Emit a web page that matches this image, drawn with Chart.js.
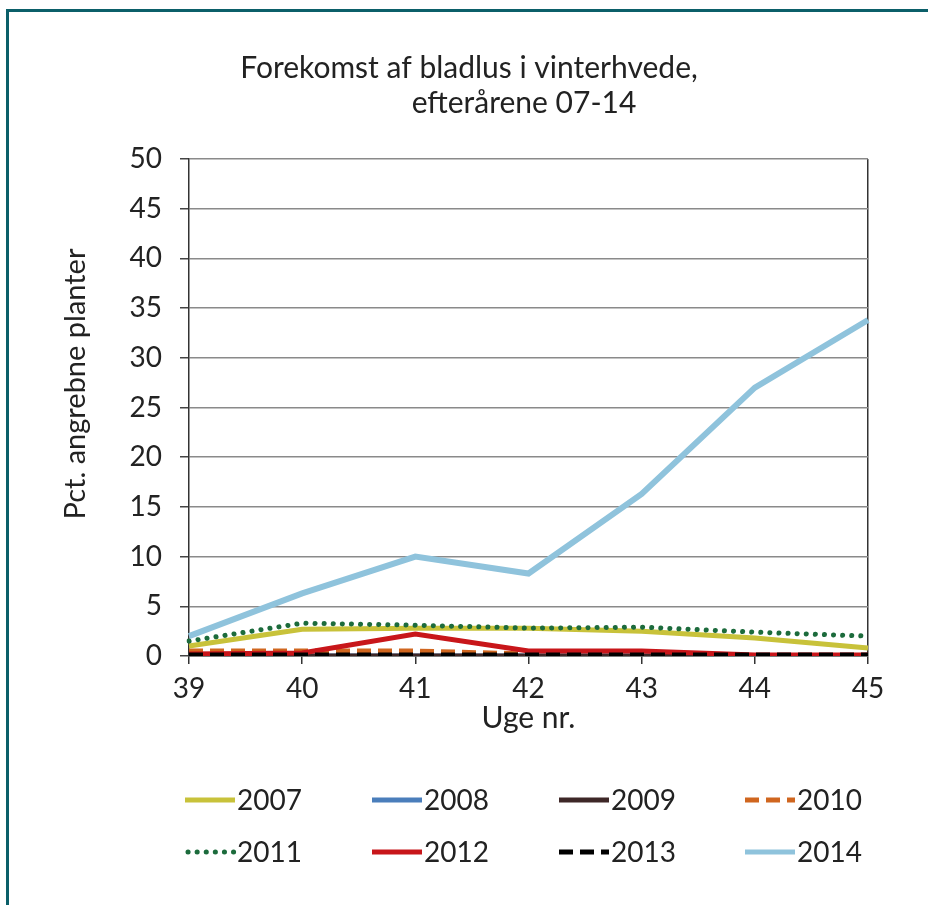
<!DOCTYPE html>
<html>
<head>
<meta charset="utf-8">
<script src="https://cdn.jsdelivr.net/npm/chart.js@4/dist/chart.umd.min.js"></script>
<style>
  body { margin: 0; background: #fff; }
  #wrap { position: relative; width: 928px; height: 905px; overflow: hidden; }
  #chart { position: absolute; left: 0; top: 0; }
  #frame { position: absolute; left: 6px; top: 9px; width: 940px; height: 920px;
           border-top: 3px solid #0b5f69; border-left: 3px solid #0b5f69; pointer-events: none; }
</style>
</head>
<body>
<div id="wrap">
  <canvas id="chart" width="928" height="905"></canvas>
  <div id="frame"></div>
</div>
<script>
// Data
const weeks = ['39', '40', '41', '42', '43', '44', '45'];
const years = ['2007', '2008', '2009', '2010', '2011', '2012', '2013', '2014'];
const v2007 = [1.0, 2.7, 2.8, 2.8, 2.5, 1.8, 0.8];
const v2008 = [0, 0, 0, 0, 0, 0, 0];
const v2009 = [0, 0, 0, 0, 0, 0, 0];
const v2010 = [0.5, 0.5, 0.5, 0.2, 0.1, 0, 0];
const v2011 = [1.5, 3.3, 3.1, 2.8, 2.9, 2.4, 2.0];
const v2012 = [0.2, 0.3, 2.2, 0.5, 0.5, 0.1, 0.1];
const v2013 = [0.1, 0.1, 0.1, 0.1, 0.1, 0.1, 0.1];
const v2014 = [2.0, 6.3, 10.0, 8.3, 16.3, 27.0, 33.8];
const yTicks = [0, 5, 10, 15, 20, 25, 30, 35, 40, 45, 50];
const titleLines = ['Forekomst af bladlus i vinterhvede,', 'efterårene 07-14'];
const yTitle = 'Pct. angrebne planter';

const FONT = "Lato, 'Open Sans', sans-serif";
const TEXT = '#222';

// line styles per year
const styles = [
    { data: v2007, color: '#c8c23a', width: 5, dash: [], cap: 'butt', order: 4 },
    { data: v2008, color: '#4a7ebb', width: 5, dash: [], cap: 'butt', order: 8 },
    { data: v2009, color: '#3e2727', width: 5, dash: [], cap: 'butt', order: 7 },
    { data: v2010, color: '#d0661f', width: 5, dash: [14, 7], cap: 'butt', order: 6 },
    { data: v2011, color: '#1c6b3c', width: 5, dash: [0.1, 9], cap: 'round', order: 3 },
    { data: v2012, color: '#c8161a', width: 5, dash: [], cap: 'butt', order: 5 },
    { data: v2013, color: '#000000', width: 5, dash: [14, 7], cap: 'butt', order: 2 },
    { data: v2014, color: '#8fc3dc', width: 6, dash: [], cap: 'butt', order: 1 }
];

const datasets = years.map((y, i) => ({
    label: y,
    data: styles[i].data,
    borderColor: styles[i].color,
    backgroundColor: styles[i].color,
    borderWidth: styles[i].width,
    borderDash: styles[i].dash,
    borderCapStyle: styles[i].cap,
    borderJoinStyle: 'miter',
    pointRadius: 0,
    tension: 0,
    order: styles[i].order
}));

// Title, y-axis title and legend drawn by hand
const textPlugin = {
    id: 'handText',
    afterDraw(chart) {
        const ctx = chart.ctx;
        ctx.save();
        ctx.fillStyle = TEXT;
        ctx.textBaseline = 'middle';
        ctx.textAlign = 'center';

        // title (the two lines are not centred on the same x in the original)
        ctx.font = '30px ' + FONT;
        ctx.fillText(titleLines[0], 469, 68);
        ctx.fillText(titleLines[1], 524, 103);

        // y-axis title
        ctx.save();
        ctx.translate(76, 384);
        ctx.rotate(-Math.PI / 2);
        ctx.font = '29px ' + FONT;
        ctx.fillText(yTitle, 0, 0);
        ctx.restore();

        // legend: 4 columns, 2 rows
        const cols = [185, 372, 559, 745];
        const rows = [800, 852];
        ctx.textAlign = 'left';
        chart.data.datasets.forEach((ds, i) => {
            const x = cols[i % 4], y = rows[Math.floor(i / 4)];
            ctx.beginPath();
            ctx.strokeStyle = ds.borderColor;
            ctx.lineWidth = 5;
            ctx.lineCap = ds.borderCapStyle;
            ctx.setLineDash(ds.borderDash);
            ctx.moveTo(x + (ds.borderCapStyle === 'round' ? 3 : 0), y);
            ctx.lineTo(x + 50, y);
            ctx.stroke();
            ctx.setLineDash([]);
            ctx.font = '28px ' + FONT;
            ctx.fillText(ds.label, x + 52, y + 1);
        });
        ctx.restore();
    }
};

new Chart(document.getElementById('chart'), {
    type: 'line',
    data: { labels: weeks, datasets: datasets },
    plugins: [textPlugin],
    options: {
        responsive: false,
        animation: false,
        layout: { padding: { left: 50, right: 60, top: 159, bottom: 169 } },
        plugins: {
            legend: { display: false },
            tooltip: { enabled: false },
            title: { display: false }
        },
        scales: {
            x: {
                offset: false,
                afterFit: s => { s.height = 80; },
                grid: {
                    drawOnChartArea: true,
                    color: c => c.index === weeks.length - 1 ? '#333' : 'rgba(0,0,0,0)',
                    tickColor: '#333',
                    tickLength: 8,
                    lineWidth: 1.5
                },
                border: { display: true, color: '#333', width: 1.5 },
                ticks: { color: TEXT, font: { family: FONT, size: 28 }, padding: 8, maxRotation: 0 },
                title: { display: true, text: 'Uge nr.', color: TEXT, font: { family: FONT, size: 30 }, padding: { top: 0, bottom: 0 } }
            },
            y: {
                min: 0,
                max: 50,
                afterFit: s => { s.width = 139; },
                afterBuildTicks: s => { s.ticks = yTicks.map(v => ({ value: v })); },
                grid: { color: '#8a8a8a', tickColor: '#444', tickLength: 9, lineWidth: 1.5 },
                border: { display: true, color: '#333', width: 1.5 },
                ticks: { color: TEXT, font: { family: FONT, size: 28 }, padding: 18 }
            }
        }
    }
});
</script>
</body>
</html>
